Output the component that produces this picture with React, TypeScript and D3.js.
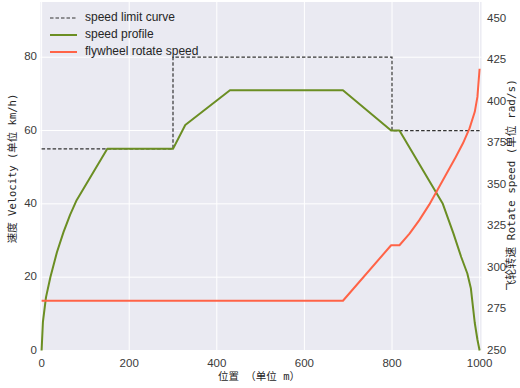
import React from "react";
import * as d3 from "d3";

const W = 520;
const H = 388;

const xTicks = [0, 200, 400, 600, 800, 1000];
const vTicks = [0, 20, 40, 60, 80];
const rTicks = [250, 275, 300, 325, 350, 375, 400, 425, 450];

const limitX = [0, 300, 300, 800, 800, 1000];
const limitV = [55, 55, 80, 80, 60, 60];

const profileX = [0, 3, 10, 20, 35, 50, 65, 80, 150, 300, 328, 430, 688, 798, 817, 916, 940, 958, 972, 980, 989, 995, 1000];
const profileV = [0, 7.8, 14.5, 20, 26.8, 32.3, 37, 41, 55, 55, 61.5, 71, 71, 60, 60, 40, 32, 25.5, 21, 17, 7.5, 3, 0];

const flyX = [0, 688, 798, 817, 840, 862, 885, 905, 925, 945, 962, 977, 989, 995, 1000];
const flyR = [280, 280, 313.5, 313.5, 320.5, 328.5, 338, 347.5, 357, 366.5, 375, 384, 394, 403, 420];

const legendLabels = ["speed limit curve", "speed profile", "flywheel rotate speed"];

const PLOT = { left: 40.5, right: 481.5, top: 2, bottom: 350.5 };

export default function App() {
  const x = d3.scaleLinear().domain([0, 1000]).range([41.6, 479.6]);
  const yV = d3.scaleLinear().domain([0, 80]).range([350.5, 57.2]);
  const yR = d3.scaleLinear().domain([250, 450]).range([350.5, 19]);

  const lineV = d3
    .line<[number, number]>()
    .x((d) => x(d[0]))
    .y((d) => yV(d[1]));
  const lineR = d3
    .line<[number, number]>()
    .x((d) => x(d[0]))
    .y((d) => yR(d[1]));

  const limitPts = limitX.map((v, i) => [v, limitV[i]] as [number, number]);
  const profilePts = profileX.map((v, i) => [v, profileV[i]] as [number, number]);
  const flyPts = flyX.map((v, i) => [v, flyR[i]] as [number, number]);

  const tickFont = "'Liberation Sans', Arial, sans-serif";
  const cjkFont = "'DejaVu Sans Mono', 'Noto Sans CJK SC', monospace";
  const tickColor = "#3a3a3a";

  const legendColors = ["#333", "#6b8e23", "tomato"];

  return (
    <svg
      width={W}
      height={H}
      style={{ position: "absolute", left: 0, top: 0 }}
      xmlns="http://www.w3.org/2000/svg"
    >
      <rect x={0} y={0} width={W} height={H} fill="#ffffff" />
      <rect
        x={PLOT.left}
        y={PLOT.top}
        width={PLOT.right - PLOT.left}
        height={PLOT.bottom - PLOT.top}
        fill="#eaeaf2"
      />
      {xTicks.map((t) => (
        <line key={"gx" + t} x1={x(t)} x2={x(t)} y1={PLOT.top} y2={PLOT.bottom} stroke="#fff" strokeWidth={1} />
      ))}
      {vTicks.map((t) => (
        <line key={"gy" + t} x1={PLOT.left} x2={PLOT.right} y1={yV(t)} y2={yV(t)} stroke="#fff" strokeWidth={1} />
      ))}

      <path d={lineV(limitPts) || ""} fill="none" stroke="#333" strokeWidth={1.2} strokeDasharray="3.5,2" />
      <path d={lineV(profilePts) || ""} fill="none" stroke="#6b8e23" strokeWidth={2} strokeLinejoin="round" />
      <path d={lineR(flyPts) || ""} fill="none" stroke="tomato" strokeWidth={2} strokeLinejoin="round" />

      {xTicks.map((t) => (
        <text key={"tx" + t} x={x(t)} y={364} textAnchor="middle" dominantBaseline="middle" fontFamily={tickFont} fontSize={11.5} fill={tickColor}>
          {t}
        </text>
      ))}
      {vTicks.map((t) => (
        <text key={"tv" + t} x={37} y={yV(t)} textAnchor="end" dominantBaseline="middle" fontFamily={tickFont} fontSize={11.5} fill={tickColor}>
          {t}
        </text>
      ))}
      {rTicks.map((t) => (
        <text key={"tr" + t} x={487} y={yR(t)} textAnchor="start" dominantBaseline="middle" fontFamily={tickFont} fontSize={11.5} fill={tickColor}>
          {t}
        </text>
      ))}

      <text x={259} y={377} textAnchor="middle" dominantBaseline="middle" fontFamily={cjkFont} fontSize={10.5} fill="#262626">
        位置 （单位 m）
      </text>
      <text
        transform={`translate(13,168.5) rotate(-90)`}
        textAnchor="middle"
        dominantBaseline="middle"
        fontFamily={cjkFont}
        fontSize={10.5}
        fill="#262626"
      >
        速度 Velocity (单位 km/h)
      </text>
      <text
        transform={`translate(512,185) rotate(-90)`}
        textAnchor="middle"
        dominantBaseline="middle"
        fontFamily={cjkFont}
        fontSize={11}
        fill="#262626"
      >
        飞轮转速 Rotate speed (单位 rad/s)
      </text>

      {legendLabels.map((lab, i) => {
        const ly = 18 + i * 17;
        return (
          <g key={lab}>
            <line
              x1={50}
              x2={77}
              y1={ly}
              y2={ly}
              stroke={legendColors[i]}
              strokeWidth={i === 0 ? 1.2 : 2}
              strokeDasharray={i === 0 ? "3.5,2" : undefined}
            />
            <text x={85} y={ly} dominantBaseline="middle" fontFamily={tickFont} fontSize={12} fill="#262626">
              {lab}
            </text>
          </g>
        );
      })}
    </svg>
  );
}
